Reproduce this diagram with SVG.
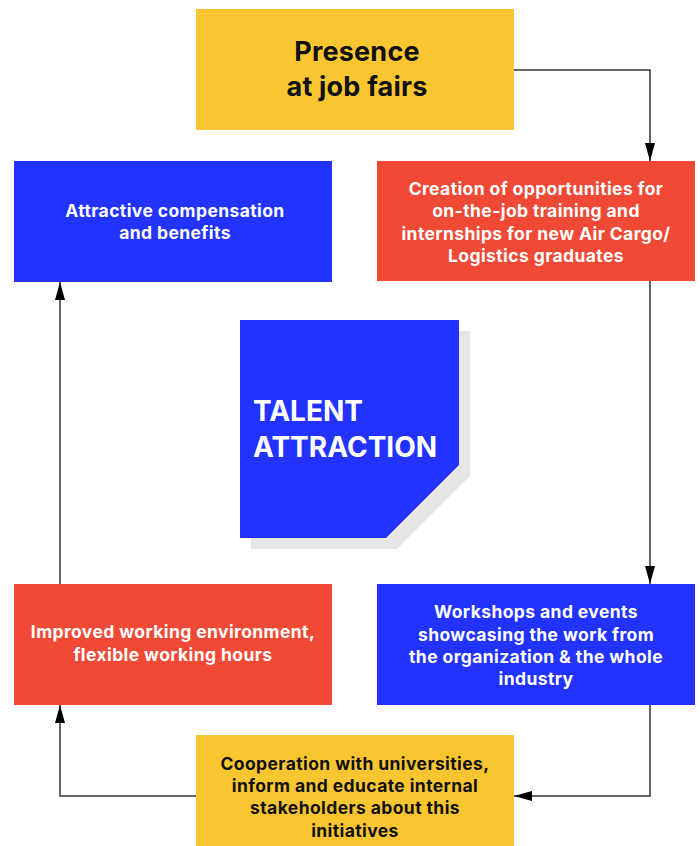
<svg xmlns="http://www.w3.org/2000/svg" width="700" height="846" viewBox="0 0 700 846">
<defs>
<style>
.y{fill:#F9C632}.r{fill:#F04935}.b{fill:#2233FF}
.t{font-family:Inter,"Liberation Sans",sans-serif;font-weight:700;font-size:17.5px;letter-spacing:0.4px;text-anchor:middle}
.h{font-size:27px;letter-spacing:0.2px}
.w{fill:#ffffff}.k{fill:#111111}
.c{fill:none;stroke:#333333;stroke-width:1.5}
</style>
<marker id="ah" viewBox="0 0 18 10" refX="18" refY="5" markerWidth="18" markerHeight="10" markerUnits="userSpaceOnUse" orient="auto">
<path d="M0,0 L18,5 L0,10 Z" fill="#000"/>
</marker>
</defs>
<rect width="700" height="846" fill="#ffffff"/>
<g id="connectors">
<path class="c" d="M514,70 H650 V161" marker-end="url(#ah)"/>
<path class="c" d="M650,281 V584" marker-end="url(#ah)"/>
<path class="c" d="M650,705 V796 H514" marker-end="url(#ah)"/>
<path class="c" d="M196,796 H60 V705" marker-end="url(#ah)"/>
<path class="c" d="M60,584 V282" marker-end="url(#ah)"/>
</g>
<g id="center">
<polygon points="251,331 470,331 470,476 397,549 251,549" fill="#E6E6E6"/>
<polygon points="240,320 459,320 459,465 386,538 240,538" fill="#2233FF"/>
<text x="253" y="421" font-family="Inter,'Liberation Sans',sans-serif" font-weight="700" font-size="28" fill="#fff">TALENT</text>
<text x="253" y="457" font-family="Inter,'Liberation Sans',sans-serif" font-weight="700" font-size="28" fill="#fff">ATTRACTION</text>
</g>
<g id="n1">
<rect class="y" x="196" y="9" width="318" height="121"/>
<text class="t h k" x="357" y="61">Presence</text>
<text class="t h k" x="357" y="96">at job fairs</text>
</g>
<g id="n2">
<rect class="r" x="377" y="161" width="318" height="120"/>
<text class="t w" x="536" y="195">Creation of opportunities for</text>
<text class="t w" x="536" y="217">on-the-job training and</text>
<text class="t w" x="536" y="240">internships for new Air Cargo/</text>
<text class="t w" x="536" y="262">Logistics graduates</text>
</g>
<g id="n3">
<rect class="b" x="377" y="584" width="318" height="121"/>
<text class="t w" x="536" y="618">Workshops and events</text>
<text class="t w" x="536" y="641">showcasing the work from</text>
<text class="t w" x="536" y="663">the organization &amp; the whole</text>
<text class="t w" x="536" y="685">industry</text>
</g>
<g id="n4">
<rect class="y" x="196" y="735" width="318" height="111"/>
<text class="t k" x="355" y="770">Cooperation with universities,</text>
<text class="t k" x="355" y="792">inform and educate internal</text>
<text class="t k" x="355" y="814">stakeholders about this</text>
<text class="t k" x="355" y="837">initiatives</text>
</g>
<g id="n5">
<rect class="r" x="14" y="584" width="318" height="121"/>
<text class="t w" x="173" y="638">Improved working environment,</text>
<text class="t w" x="173" y="661">flexible working hours</text>
</g>
<g id="n6">
<rect class="b" x="14" y="161" width="318" height="121"/>
<text class="t w" x="175" y="217">Attractive compensation</text>
<text class="t w" x="175" y="239">and benefits</text>
</g>
</svg>
